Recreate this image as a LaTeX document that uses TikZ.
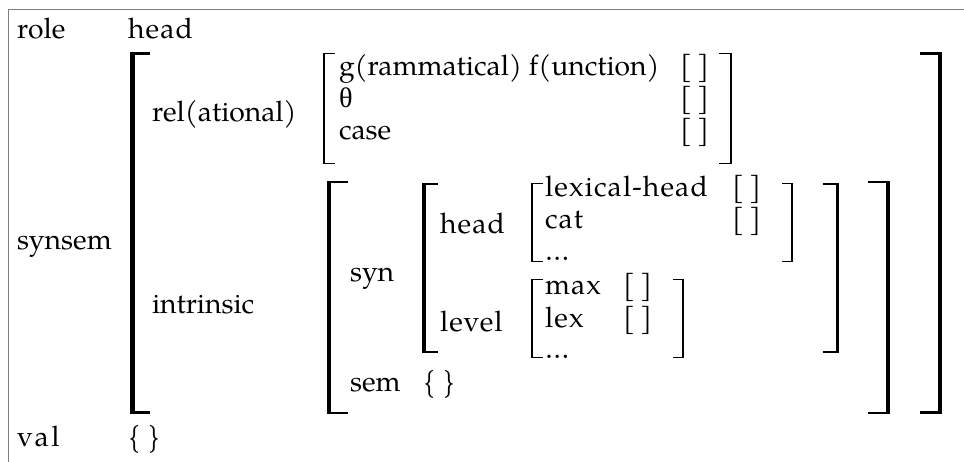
\documentclass[tikz,border=0pt]{standalone}
\usepackage{fontspec}
\setmainfont{texgyrepagella}[Extension=.otf, UprightFont=*-regular, BoldFont=*-bold, ItalicFont=*-italic, BoldItalicFont=*-bolditalic]
\newfontfamily\grkfont{Liberation Serif}
\newcommand\lspc[1]{{\addfontfeature{LetterSpace=4}#1}}
\newcommand\lspcw[1]{{\addfontfeature{LetterSpace=9}#1}}
\newcommand\LBrk[5]{%
  \fill[black] (#1,#2) rectangle (#1+#5,#3);
  \fill[black] (#1,#2) rectangle (#1+#4,#2+0.6*#5);
  \fill[black] (#1,#3) rectangle (#1+#4,#3-0.6*#5);}
\newcommand\RBrk[5]{%
  \fill[black] (#1,#2) rectangle (#1-#5,#3);
  \fill[black] (#1,#2) rectangle (#1-#4,#2+0.6*#5);
  \fill[black] (#1,#3) rectangle (#1-#4,#3-0.6*#5);}
\tikzset{lbl/.style={anchor=base west, inner sep=0pt, outer sep=0pt, font=\fontsize{28.3}{32}\selectfont}}
\begin{document}
\begin{tikzpicture}[x=1pt,y=-1pt]
\useasboundingbox (0,0) rectangle (964,462);
\fill[white] (0,0) rectangle (964,462);
% frame
\draw[gray, line width=1.5pt] (964,9.5) -- (8.5,9.5) -- (8.5,462);
% top level
\node[lbl] (role) at (17,39) {role};
\node[lbl] (rolev) at (128,39) {\lspc{head}};
\node[lbl] (synsem) at (17,250) {synsem};
\node[lbl] (val) at (17,446) {\lspcw{val}};
\node[lbl] (valv) at (128,446) {\{ \}};
% outer synsem brackets
\LBrk{130}{52}{414}{20}{4.5}
\RBrk{942}{52}{414}{22}{4.5}
% relational
\node[lbl] (rel) at (152,122) {rel(ational)};
\LBrk{323}{53}{164}{12}{2}
\RBrk{732}{53}{164}{13}{2}
\node[lbl] (gf) at (339,76) {g(rammatical) f(unction)};
\node[lbl] (gfv) at (680,76) {[\,]};
\node[lbl] (th) at (339,108) {{\grkfont θ}};
\node[lbl] (thv) at (680,108) {[\,]};
\node[lbl] (case) at (339,140) {case};
\node[lbl] (casev) at (680,140) {[\,]};
% intrinsic
\node[lbl] (intr) at (152,314) {intrinsic};
\LBrk{327}{181}{414}{21}{4}
\RBrk{890}{181}{414}{22}{4}
\node[lbl] (syn) at (350,282) {syn};
\node[lbl] (sem) at (350,391) {sem};
\node[lbl] (semv) at (423,391) {\{ \}};
% syn
\LBrk{422}{183}{353}{16}{3.5}
\RBrk{839}{183}{353}{16}{3.5}
\node[lbl] (hd) at (440,234) {\lspc{head}};
\node[lbl] (lv) at (440,331) {\lspc{level}};
% head value
\LBrk{531}{183}{262}{12}{2}
\RBrk{793}{183}{262}{11}{2}
\node[lbl] (lh) at (545,197) {\lspc{lexical-head}};
\node[lbl] (lhv) at (732,197) {[\,]};
\node[lbl] (cat) at (545,229) {\lspc{cat}};
\node[lbl] (catv) at (732,229) {[\,]};
\node[lbl] (hdots) at (545,261) {\dots};
% level value
\LBrk{531}{279}{358}{12}{2}
\RBrk{684}{279}{358}{11}{2}
\node[lbl] (mx) at (545,295) {\lspc{max}};
\node[lbl] (mxv) at (623,295) {[\,]};
\node[lbl] (lx) at (545,327) {\lspc{lex}};
\node[lbl] (lxv) at (623,327) {[\,]};
\node[lbl] (ldots) at (545,359) {\dots};
\end{tikzpicture}
\end{document}
